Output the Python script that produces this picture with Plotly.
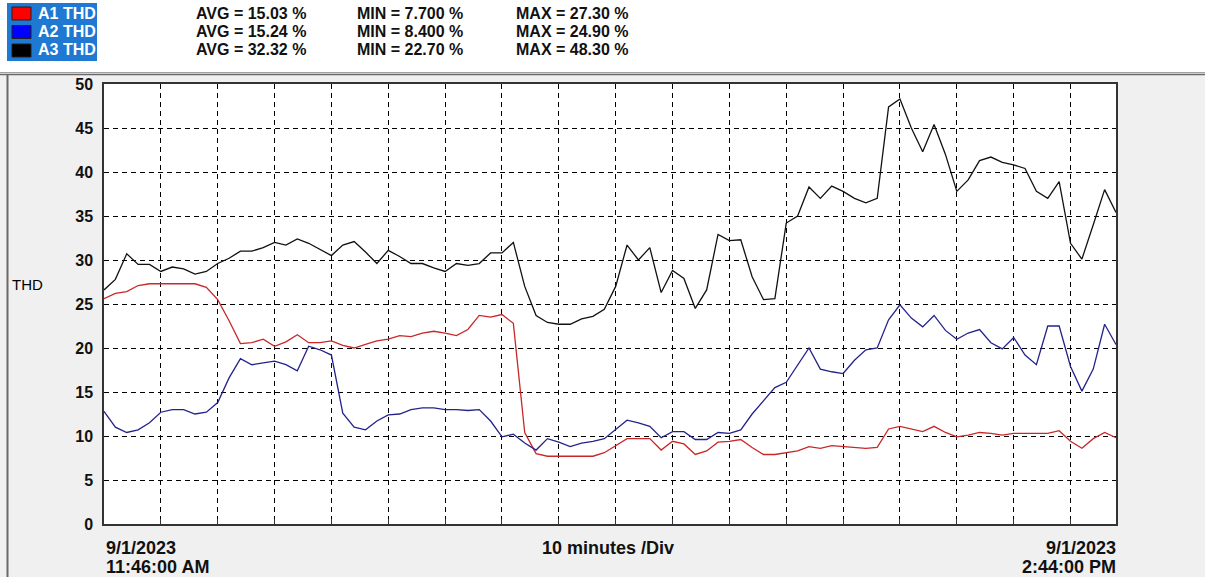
import pandas as pd
import plotly.graph_objects as go

# ---- data: THD readings every 2 minutes, 9/1/2023 11:46:00 AM .. 2:44:00 PM ----
start_time = "2023-09-01 11:46:00"
sample_step = "2min"

a1_thd = [25.6, 26.2, 26.4, 27.1, 27.3, 27.3, 27.3, 27.3, 27.3, 26.9,
          25.5, 23.1, 20.5, 20.6, 21.0, 20.2, 20.7, 21.5, 20.6, 20.6,
          20.8, 20.3, 20.0, 20.4, 20.8, 21.0, 21.4, 21.3, 21.7, 21.9,
          21.7, 21.4, 22.1, 23.7, 23.5, 23.8, 22.8, 10.4, 8.0, 7.7,
          7.7, 7.7, 7.7, 7.7, 8.1, 8.9, 9.7, 9.7, 9.7, 8.4,
          9.4, 9.1, 7.9, 8.3, 9.3, 9.4, 9.6, 8.7, 7.9, 7.9,
          8.1, 8.3, 8.8, 8.6, 8.9, 8.8, 8.7, 8.6, 8.7, 10.8,
          11.1, 10.8, 10.5, 11.1, 10.4, 9.9, 10.1, 10.4, 10.3, 10.1,
          10.3, 10.3, 10.3, 10.3, 10.6, 9.4, 8.6, 9.7, 10.4, 9.8]

a2_thd = [12.8, 11.0, 10.4, 10.7, 11.5, 12.7, 13.0, 13.0, 12.5, 12.7,
          13.8, 16.6, 18.8, 18.1, 18.3, 18.5, 18.1, 17.4, 20.2, 19.8,
          19.2, 12.6, 11.0, 10.7, 11.7, 12.4, 12.5, 13.0, 13.2, 13.2,
          13.0, 13.0, 12.9, 13.0, 11.7, 9.9, 10.2, 9.2, 8.4, 9.7,
          9.3, 8.8, 9.2, 9.4, 9.7, 10.7, 11.8, 11.5, 11.1, 9.8,
          10.5, 10.5, 9.6, 9.6, 10.4, 10.3, 10.7, 12.5, 14.0, 15.5,
          16.1, 18.0, 20.0, 17.6, 17.3, 17.1, 18.6, 19.8, 20.0, 23.2,
          24.9, 23.4, 22.4, 23.7, 22.0, 21.0, 21.7, 22.1, 20.6, 19.9,
          21.2, 19.2, 18.1, 22.5, 22.5, 17.9, 15.1, 17.6, 22.7, 20.4]

a3_thd = [26.6, 27.8, 30.7, 29.5, 29.5, 28.7, 29.2, 29.0, 28.4, 28.7,
          29.6, 30.2, 31.0, 31.0, 31.4, 32.0, 31.7, 32.4, 31.9, 31.2,
          30.5, 31.7, 32.1, 30.9, 29.6, 31.1, 30.4, 29.6, 29.6, 29.1,
          28.7, 29.6, 29.4, 29.6, 30.8, 30.8, 32.0, 27.0, 23.7, 22.9,
          22.7, 22.7, 23.3, 23.6, 24.4, 27.0, 31.7, 30.0, 31.4, 26.3,
          28.8, 27.9, 24.5, 26.6, 32.9, 32.2, 32.3, 28.1, 25.5, 25.6,
          34.2, 35.0, 38.3, 37.0, 38.4, 37.8, 37.0, 36.5, 37.0, 47.4,
          48.3, 45.0, 42.3, 45.4, 42.0, 37.8, 39.1, 41.3, 41.7, 41.1,
          40.8, 40.4, 37.8, 37.0, 38.9, 31.9, 30.1, 34.0, 38.0, 35.4]

series_names = ["A1 THD", "A2 THD", "A3 THD"]
series_colors = ["#c82828", "#23238c", "#111111"]
swatch_colors = ["#ff0000", "#0000ff", "#000000"]
avg_labels = ["AVG = 15.03 %", "AVG = 15.24 %", "AVG = 32.32 %"]
min_labels = ["MIN = 7.700 %", "MIN = 8.400 %", "MIN = 22.70 %"]
max_labels = ["MAX = 27.30 %", "MAX = 24.90 %", "MAX = 48.30 %"]

y_ticks = [0, 5, 10, 15, 20, 25, 30, 35, 40, 45, 50]
start_date_label = "9/1/2023"
start_time_label = "11:46:00 AM"
end_date_label = "9/1/2023"
end_time_label = "2:44:00 PM"
division_label = "10 minutes /Div"
y_title = "THD"

times = pd.date_range(start=start_time, periods=len(a1_thd), freq=sample_step)

# ---- page geometry (pixels) ----
W, H = 1205, 577
PL, PR, PT, PB = 104, 1116, 84, 524  # plot area edges


def px(x):
    return (x - PL) / (PR - PL)


def py(y):
    return (PB - y) / (PB - PT)


FONT = "Liberation Sans, Arial, sans-serif"

fig = go.Figure()
for vals, name, col in zip([a1_thd, a2_thd, a3_thd], series_names, series_colors):
    fig.add_trace(go.Scatter(x=times, y=vals, mode="lines", name=name,
                             line=dict(color=col, width=1.3),
                             showlegend=False))

shapes = []
annotations = []

# white header band with the channel summary
shapes.append(dict(type="rect", xref="paper", yref="paper",
                   x0=px(0), x1=px(W), y0=py(72), y1=py(0),
                   fillcolor="white", line=dict(width=0), layer="below"))
shapes.append(dict(type="line", xref="paper", yref="paper",
                   x0=px(0), x1=px(W), y0=py(72.5), y1=py(72.5),
                   line=dict(color="#a0a0a0", width=1)))
shapes.append(dict(type="line", xref="paper", yref="paper",
                   x0=px(0), x1=px(W), y0=py(74.5), y1=py(74.5),
                   line=dict(color="#696969", width=1.5)))
# left frame edge
shapes.append(dict(type="line", xref="paper", yref="paper",
                   x0=px(7.5), x1=px(7.5), y0=py(75), y1=py(H),
                   line=dict(color="#696969", width=2)))

# selected-channel highlight
shapes.append(dict(type="rect", xref="paper", yref="paper",
                   x0=px(7), x1=px(97), y0=py(61), y1=py(3),
                   fillcolor="#1f78d1", line=dict(width=0)))

row_y = [13, 31.5, 50]
for ry, sw, name, a, mn, mx in zip(row_y, swatch_colors, series_names,
                                   avg_labels, min_labels, max_labels):
    shapes.append(dict(type="rect", xref="paper", yref="paper",
                       x0=px(12), x1=px(31), y0=py(ry + 7), y1=py(ry - 6),
                       fillcolor=sw, line=dict(color="#202020", width=1)))
    annotations.append(dict(xref="paper", yref="paper", x=px(36), y=py(ry),
                            text=name, showarrow=False, xanchor="left",
                            yanchor="middle",
                            font=dict(family=FONT, size=16, color="white",
                                      weight="bold")))
    for txt, xx in zip([a, mn, mx], [194, 355, 514]):
        annotations.append(dict(xref="paper", yref="paper", x=px(xx), y=py(ry),
                                text=txt, showarrow=False, xanchor="left",
                                yanchor="middle",
                                font=dict(family=FONT, size=16, color="#111111",
                                          weight="bold")))

# axis captions
annotations.append(dict(xref="paper", yref="paper", x=px(10), y=py(284),
                        text=y_title, showarrow=False, xanchor="left",
                        yanchor="middle",
                        font=dict(family=FONT, size=15, color="black")))
bottom_font = dict(family=FONT, size=18, color="#111111", weight="bold")
annotations.append(dict(xref="paper", yref="paper", x=px(104), y=py(548),
                        text=start_date_label, showarrow=False, xanchor="left",
                        yanchor="middle", font=bottom_font))
annotations.append(dict(xref="paper", yref="paper", x=px(104), y=py(567),
                        text=start_time_label, showarrow=False, xanchor="left",
                        yanchor="middle", font=bottom_font))
annotations.append(dict(xref="paper", yref="paper", x=px(608), y=py(548),
                        text=division_label, showarrow=False, xanchor="center",
                        yanchor="middle", font=bottom_font))
annotations.append(dict(xref="paper", yref="paper", x=px(1118), y=py(548),
                        text=end_date_label, showarrow=False, xanchor="right",
                        yanchor="middle", font=bottom_font))
annotations.append(dict(xref="paper", yref="paper", x=px(1118), y=py(567),
                        text=end_time_label, showarrow=False, xanchor="right",
                        yanchor="middle", font=bottom_font))

fig.update_layout(
    width=W, height=H,
    margin=dict(l=PL, r=W - PR, t=PT, b=H - PB, pad=0),
    paper_bgcolor="#f0f0f0",
    plot_bgcolor="white",
    shapes=shapes,
    annotations=annotations,
    showlegend=False,
)

fig.update_xaxes(
    type="date",
    range=[times[0], times[-1]],
    tick0=times[0], dtick=600000,
    showgrid=True, gridcolor="black", gridwidth=1, griddash="5px,4px",
    showticklabels=False,
    ticks="inside", ticklen=5, tickcolor="#333333",
    showline=True, linecolor="#333333", linewidth=1.5, mirror=True,
    zeroline=False, automargin=False,
)
fig.update_yaxes(
    range=[0, 50], tickvals=y_ticks,
    showgrid=True, gridcolor="black", gridwidth=1, griddash="5px,4px",
    tickfont=dict(family=FONT, size=16, color="#111111", weight="bold"),
    ticks="", ticklabelstandoff=6,
    showline=True, linecolor="#333333", linewidth=1.5, mirror=True,
    zeroline=False, automargin=False,
)

fig.write_html("out.html")
